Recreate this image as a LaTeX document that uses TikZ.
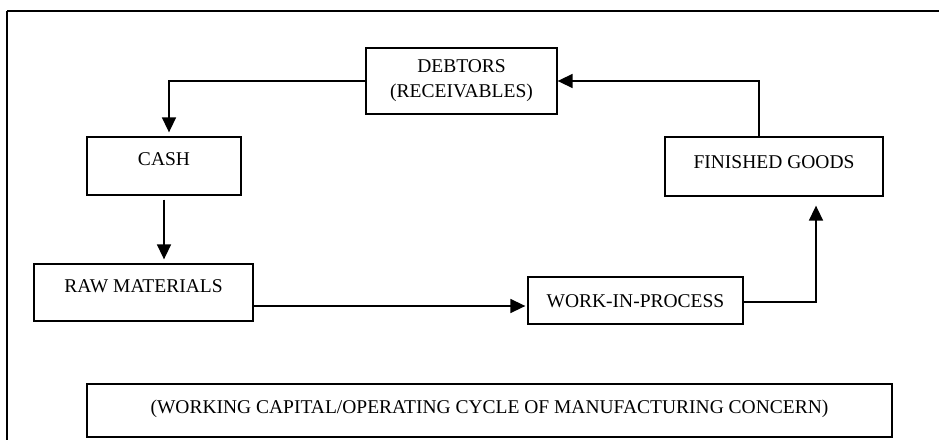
\documentclass[tikz,border=0pt]{standalone}
\usepackage{fontspec}
\setmainfont{Liberation Serif}
\usetikzlibrary{arrows.meta, positioning}

\begin{document}
\begin{tikzpicture}[x=1pt, y=-1pt,
    sbox/.style={draw, line width=1.3pt, inner sep=0pt,
                 font=\fontsize{19.5}{25}\selectfont, align=center},
    cbox/.style={sbox, text height=13pt, text depth=#1},
    cbox/.default=0pt,
    myarr/.style={-{Triangle[length=15pt,width=14pt]}, line width=1.6pt},
]
%% -- Page and outer frame --
\clip (0,0) rectangle (939,439);
\draw[line width=1.5pt] (7,11) -- (1000,11) (7,11) -- (7,500);
%% -- Cycle boxes --
\node[sbox, minimum width=191pt, minimum height=66pt](deb)at(461.5,81){DEBTORS\\(RECEIVABLES)};
\node[cbox=14pt, minimum width=154pt, minimum height=58pt](cash)at(164,166){CASH};
\node[cbox=9pt,  minimum width=218pt, minimum height=59pt](fin)at(774,166.5){FINISHED GOODS};
\node[cbox=13pt, minimum width=219pt, minimum height=57pt](raw)at(143.5,292.5){RAW MATERIALS};
\node[cbox,      minimum width=215pt, minimum height=47pt](wip)at(635.5,300.5){WORK-IN-PROCESS};
%% -- Caption box --
\node[cbox=7pt,  minimum width=805pt, minimum height=53pt](cap)at(489.5,410.5)
  {(WORKING CAPITAL/OPERATING CYCLE OF MANUFACTURING CONCERN)};
%% -- Connectors round the cycle --
\draw[myarr, shorten >=4pt](deb.west) -| ([xshift=5pt]cash.north);
\draw[myarr, shorten <=4pt, shorten >=4pt](cash.south) -- (cash.south |- raw.north);
\coordinate (r1) at ([yshift=-13.5pt]raw.east);
\draw[myarr, shorten >=2pt](r1) -- (r1 -| wip.west);
\draw[myarr, shorten >=9pt]([yshift=-1.5pt]wip.east) -| ([xshift=42pt]fin.south);
\draw[myarr]([xshift=-15pt]fin.north) |- (deb.east);
\end{tikzpicture}
\end{document}
